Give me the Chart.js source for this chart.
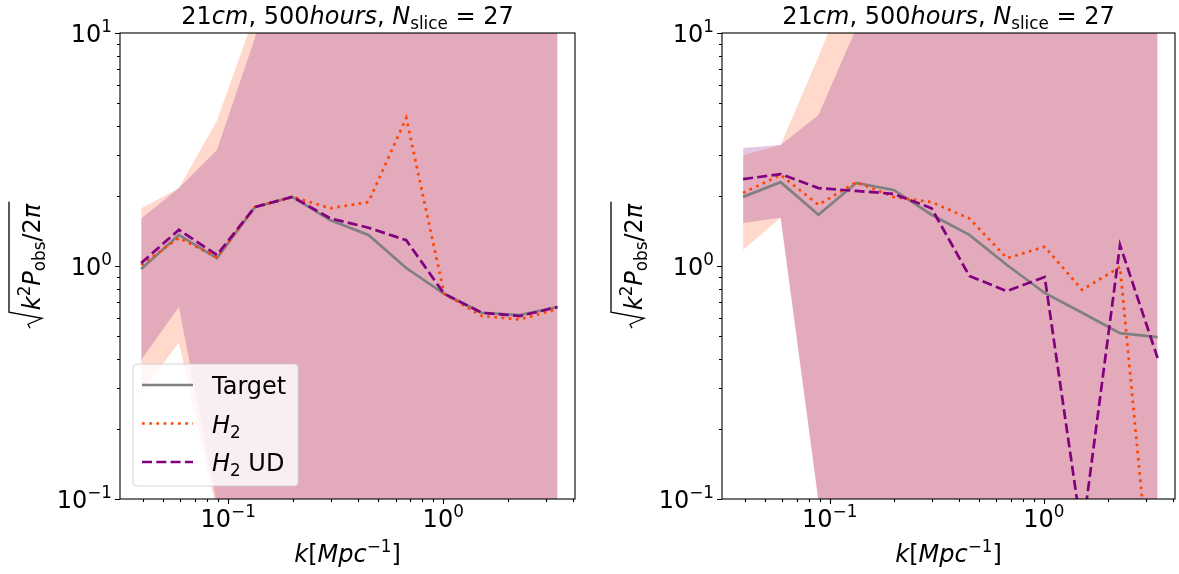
<!DOCTYPE html>
<html>
<head>
<meta charset="utf-8">
<script src="https://cdn.jsdelivr.net/npm/chart.js@4.4.1/dist/chart.umd.min.js"></script>
<style>
  body { margin: 0; background: #fff; width: 1179px; height: 574px; overflow: hidden; position: relative; }
  canvas { position: absolute; top: 0; }
</style>
</head>
<body>
<canvas id="leftChart" width="590" height="574" style="left:0"></canvas>
<canvas id="rightChart" width="589" height="574" style="left:590px"></canvas>
<script>
// k bins [Mpc^-1]
const kBins = [0.0394, 0.059, 0.0886, 0.133, 0.199, 0.299, 0.449, 0.673, 1.01, 1.51, 2.27, 3.4];

// left panel: H2
const targetLeft = [0.97, 1.36, 1.08, 1.79, 1.98, 1.57, 1.36, 0.98, 0.76, 0.63, 0.616, 0.667];
const h2Left     = [1.01, 1.32, 1.09, 1.79, 1.98, 1.77, 1.88, 4.32, 0.76, 0.61, 0.59, 0.654];
const h2UdLeft   = [1.03, 1.43, 1.115, 1.79, 1.98, 1.6, 1.46, 1.29, 0.76, 0.63, 0.61, 0.667];
const h2UpLeft   = [1.77, 2.16, 4.2, 12, 60, 60, 60, 60, 60, 60, 60, 60];
const h2LoLeft   = [0.285, 0.47, 0.088, 0.001, 0.001, 0.001, 0.001, 0.001, 0.001, 0.001, 0.001, 0.001];
const udUpLeft   = [1.6, 2.16, 3.15, 9.5, 60, 60, 60, 60, 60, 60, 60, 60];
const udLoLeft   = [0.395, 0.667, 0.095, 0.001, 0.001, 0.001, 0.001, 0.001, 0.001, 0.001, 0.001, 0.001];

// right panel: S_h,2
const targetRight = [1.98, 2.29, 1.66, 2.27, 2.12, 1.66, 1.36, 1.01, 0.766, 0.63, 0.515, 0.495];
const sh2Right    = [2.06, 2.46, 1.83, 2.29, 1.98, 1.88, 1.6, 1.08, 1.21, 0.79, 0.99, 0.02];
const sh2UdRight  = [2.36, 2.48, 2.16, 2.1, 2.04, 1.77, 0.906, 0.78, 0.897, 0.07, 1.23, 0.403];
const sh2UpRight  = [2.99, 3.31, 7.9, 20, 60, 60, 60, 60, 60, 60, 60, 60];
const sh2LoRight  = [1.17, 1.61, 0.098, 0.001, 0.001, 0.001, 0.001, 0.001, 0.001, 0.001, 0.001, 0.001];
const udUpRight   = [3.21, 3.31, 4.45, 10.5, 60, 60, 60, 60, 60, 60, 60, 60];
const udLoRight   = [1.53, 1.61, 0.098, 0.001, 0.001, 0.001, 0.001, 0.001, 0.001, 0.001, 0.001, 0.001];

// tick labels (exponents of 10)
const xTickExps = [-1, 0];
const yTickExps = [-1, 0, 1];
const xMinor = [0.04, 0.05, 0.06, 0.07, 0.08, 0.09, 0.2, 0.3, 0.4, 0.5, 0.6, 0.7, 0.8, 0.9, 2, 3, 4];
const yMinor = [0.2, 0.3, 0.4, 0.5, 0.6, 0.7, 0.8, 0.9, 2, 3, 4, 5, 6, 7, 8, 9];

const FONT = "'DejaVu Sans', sans-serif";
const FS = 24;
const ORANGE = '#ff4500';
const PURPLE = '#800080';
const GREY = '#808080';
const LW = 2.7;
const DOTS = [2.7, 4.5];
const DASH = [10, 4.3];

// draw a run of [text, italic, shift] pieces; shift 1 = superscript, -1 = subscript
function rich(ctx, segs, x, y, size, align) {
  const parts = segs.map(([t, it, sh]) => {
    const s = sh ? size * 0.7 : size;
    const font = (it ? 'italic ' : '') + s + 'px ' + FONT;
    ctx.font = font;
    return { t, font, w: ctx.measureText(t).width, dy: sh === 1 ? -size * 0.42 : sh === -1 ? size * 0.22 : 0 };
  });
  const total = parts.reduce((a, p) => a + p.w, 0);
  let cx = align === 'center' ? x - total / 2 : align === 'right' ? x - total : x;
  ctx.textAlign = 'left';
  ctx.textBaseline = 'alphabetic';
  parts.forEach(p => { ctx.font = p.font; ctx.fillText(p.t, cx, y + p.dy); cx += p.w; });
  return total;
}

function measureRich(ctx, segs, size) {
  let w = 0;
  segs.forEach(([t, it, sh]) => {
    ctx.font = (it ? 'italic ' : '') + (sh ? size * 0.7 : size) + 'px ' + FONT;
    w += ctx.measureText(t).width;
  });
  return w;
}

const titleSegs = [['21'], ['cm', 1], [', '], ['500'], ['hours', 1], [', '], ['N', 1], ['slice', 0, -1], [' = 27']];
const xLabelSegs = [['k', 1], ['['], ['Mpc', 1], ['\u22121', 0, 1], [']']];
const yLabelSegs = [['k', 1], ['2', 0, 1], ['P', 1], ['obs', 0, -1], ['/2'], ['\u03c0', 1]];

const axesDecor = {
  id: 'axesDecor',
  afterDraw(chart, args, opts) {
    const ctx = chart.ctx;
    const a = chart.chartArea;
    const xs = chart.scales.x, ys = chart.scales.y;
    ctx.save();
    ctx.strokeStyle = '#000';
    ctx.fillStyle = '#000';
    ctx.lineWidth = 1.1;
    ctx.strokeRect(a.left, a.top, a.right - a.left, a.bottom - a.top);

    // ticks
    ctx.beginPath();
    xTickExps.forEach(e => { const px = Math.round(xs.getPixelForValue(Math.pow(10, e))) + 0.5; ctx.moveTo(px, a.bottom); ctx.lineTo(px, a.bottom + 5); });
    xMinor.forEach(v => { const px = Math.round(xs.getPixelForValue(v)) + 0.5; ctx.moveTo(px, a.bottom); ctx.lineTo(px, a.bottom + 3); });
    yTickExps.forEach(e => { const py = Math.round(ys.getPixelForValue(Math.pow(10, e))) + 0.5; ctx.moveTo(a.left, py); ctx.lineTo(a.left - 5, py); });
    yMinor.forEach(v => { const py = Math.round(ys.getPixelForValue(v)) + 0.5; ctx.moveTo(a.left, py); ctx.lineTo(a.left - 3, py); });
    ctx.stroke();

    // tick labels
    xTickExps.forEach(e => {
      const px = xs.getPixelForValue(Math.pow(10, e));
      rich(ctx, [['10'], [e < 0 ? '\u2212' + (-e) : String(e), 0, 1]], px, a.bottom + 28, FS, 'center');
    });
    yTickExps.forEach(e => {
      const py = ys.getPixelForValue(Math.pow(10, e));
      rich(ctx, [['10'], [e < 0 ? '\u2212' + (-e) : String(e), 0, 1]], a.left - 8, py + 9, FS, 'right');
    });

    // title and x label
    const cx = (a.left + a.right) / 2;
    rich(ctx, titleSegs, cx, a.top - 9, FS, 'center');
    rich(ctx, xLabelSegs, cx, a.bottom + 63, FS, 'center');

    // y label with radical
    ctx.save();
    ctx.translate(a.left - 80, (a.top + a.bottom) / 2);
    ctx.rotate(-Math.PI / 2);
    const tw = measureRich(ctx, yLabelSegs, FS);
    const rw = 18;
    const x0 = -(tw + rw) / 2;
    ctx.lineWidth = 1.3;
    ctx.beginPath();
    ctx.moveTo(x0, -10);
    ctx.lineTo(x0 + 4, -12);
    ctx.lineTo(x0 + 10, 2);
    ctx.lineTo(x0 + 16, -31);
    ctx.lineTo(x0 + rw + tw + 2, -31);
    ctx.stroke();
    rich(ctx, yLabelSegs, x0 + rw, 0, FS, 'left');
    ctx.restore();

    // legend
    const L = opts.legend;
    let tmax = 0;
    L.items.forEach(it => { tmax = Math.max(tmax, measureRich(ctx, it.segs, FS)); });
    const bw = 79 + tmax + 12, bh = 122;
    const bx = L.x, by = L.y;
    ctx.beginPath();
    ctx.roundRect(bx, by, bw, bh, 4);
    ctx.fillStyle = 'rgba(255,255,255,0.8)';
    ctx.fill();
    ctx.strokeStyle = 'rgba(204,204,204,0.8)';
    ctx.lineWidth = 1;
    ctx.stroke();
    L.items.forEach((it, i) => {
      const yy = by + 21 + i * 38.5;
      ctx.beginPath();
      ctx.strokeStyle = it.color;
      ctx.lineWidth = LW;
      ctx.setLineDash(it.dash || []);
      ctx.moveTo(bx + 9, yy);
      ctx.lineTo(bx + 60, yy);
      ctx.stroke();
      ctx.setLineDash([]);
      ctx.fillStyle = '#000';
      rich(ctx, it.segs, bx + 79, yy + 9, FS, 'left');
    });
    ctx.restore();
  }
};

function band(data, color, order, fill) {
  return { data, borderWidth: 0, pointRadius: 0, backgroundColor: color, fill, order, clip: 0 };
}

function line(data, color, dash, order) {
  return { data, borderColor: color, borderWidth: LW, borderDash: dash, pointRadius: 0, fill: false, order, clip: 0, tension: 0 };
}

function makeChart(id, pad, series, legend) {
  const pts = arr => arr.map((v, i) => ({ x: kBins[i], y: v }));
  return new Chart(document.getElementById(id), {
    type: 'line',
    data: {
      datasets: [
        band(pts(series.h2Up), 'rgba(255,69,0,0.2)', 6, '+1'),
        band(pts(series.h2Lo), 'rgba(0,0,0,0)', 6, false),
        band(pts(series.udUp), 'rgba(128,0,128,0.22)', 5, '+1'),
        band(pts(series.udLo), 'rgba(0,0,0,0)', 5, false),
        line(pts(series.target), GREY, [], 3),
        line(pts(series.h2), ORANGE, DOTS, 2),
        line(pts(series.ud), PURPLE, DASH, 1)
      ]
    },
    options: {
      responsive: false,
      animation: false,
      layout: { padding: pad },
      scales: {
        x: { type: 'logarithmic', min: 0.0314, max: 4.1, display: false },
        y: { type: 'logarithmic', min: 0.1, max: 10, display: false }
      },
      plugins: {
        legend: { display: false },
        tooltip: { enabled: false },
        axesDecor: { legend }
      }
    },
    plugins: [axesDecor]
  });
}

makeChart('leftChart', { left: 120, right: 15, top: 33, bottom: 75 }, {
  target: targetLeft, h2: h2Left, ud: h2UdLeft,
  h2Up: h2UpLeft, h2Lo: h2LoLeft, udUp: udUpLeft, udLo: udLoLeft
}, {
  x: 133, y: 364,
  items: [
    { segs: [['Target']], color: GREY },
    { segs: [['H', 1], ['2', 0, -1]], color: ORANGE, dash: DOTS },
    { segs: [['H', 1], ['2', 0, -1], [' UD']], color: PURPLE, dash: DASH }
  ]
});

makeChart('rightChart', { left: 132, right: 4, top: 33, bottom: 75 }, {
  target: targetRight, h2: sh2Right, ud: sh2UdRight,
  h2Up: sh2UpRight, h2Lo: sh2LoRight, udUp: udUpRight, udLo: udLoRight
}, {
  x: 735, y: 363,
  items: [
    { segs: [['Target']], color: GREY },
    { segs: [['S', 1], ['h', 1, -1], [',\u20092', 0, -1]], color: ORANGE, dash: DOTS },
    { segs: [['S', 1], ['h', 1, -1], [',\u20092', 0, -1], [', UD']], color: PURPLE, dash: DASH }
  ]
});
</script>
</body>
</html>
